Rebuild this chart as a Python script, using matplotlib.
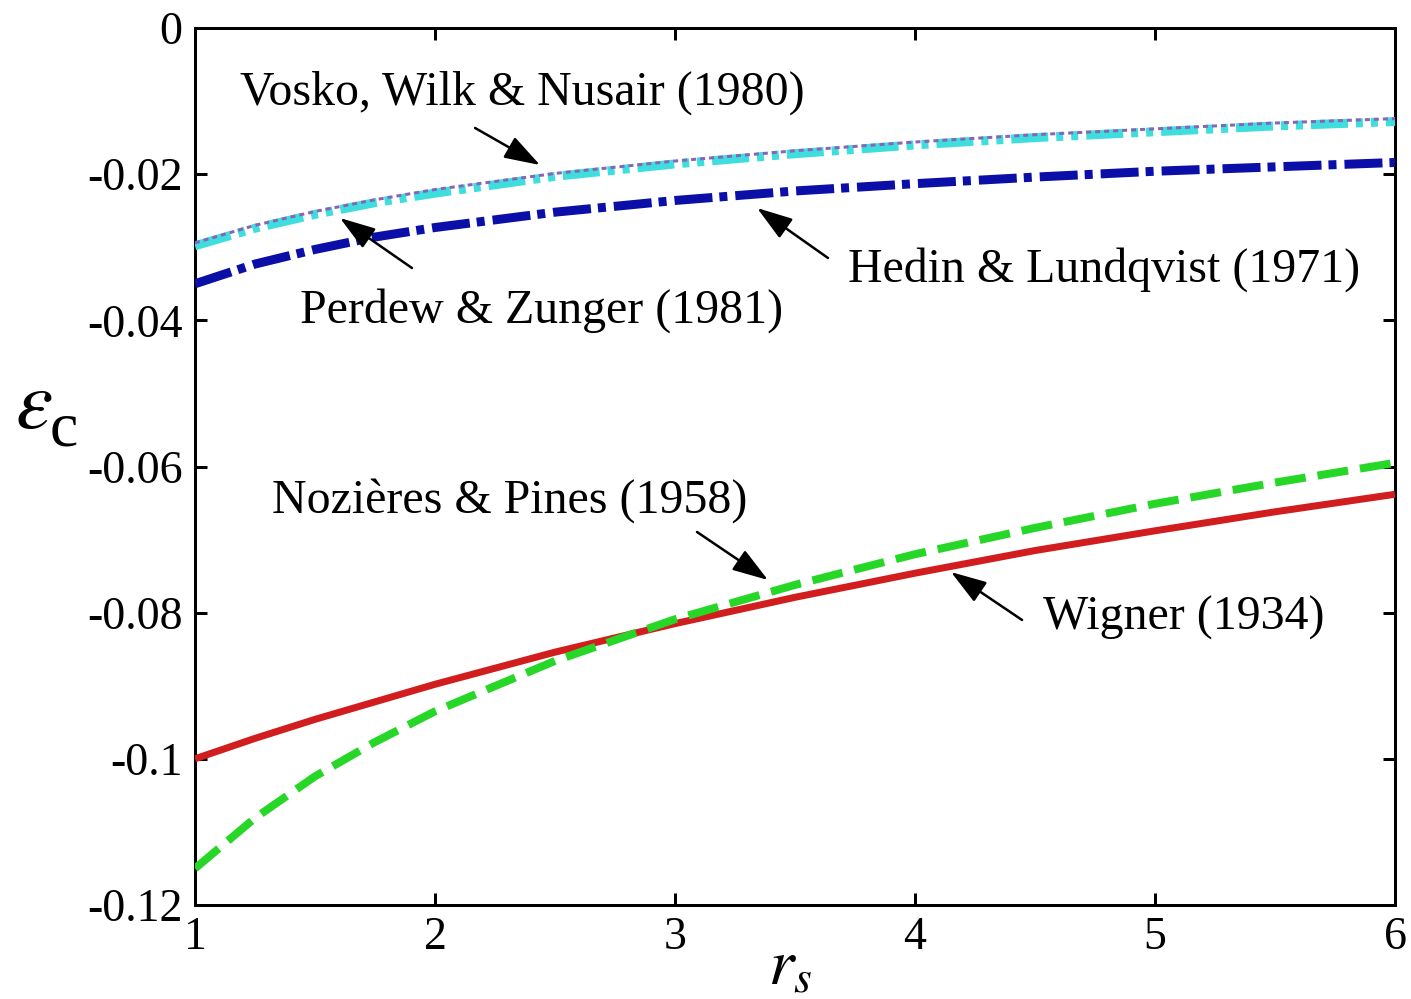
import matplotlib
matplotlib.use("Agg")
import matplotlib.pyplot as plt

plt.rcParams['font.family'] = ['Liberation Serif', 'DejaVu Serif']
plt.rcParams['mathtext.fontset'] = 'stix'
plt.rcParams['axes.unicode_minus'] = False

# Correlation energy per electron vs. Wigner-Seitz radius
rs = [1.0, 1.25, 1.5, 1.75, 2.0, 2.5, 3.0, 3.5, 4.0, 4.5, 5.0, 5.5, 6.0]

wigner = [-0.1000, -0.0972, -0.0946, -0.0922, -0.0898, -0.0854, -0.0815,
          -0.0779, -0.0746, -0.0715, -0.0688, -0.0662, -0.0638]
nozieres_pines = [-0.1150, -0.1081, -0.1024, -0.0977, -0.0935, -0.0866, -0.0809,
                  -0.0762, -0.0720, -0.0684, -0.0651, -0.0622, -0.0595]
hedin_lundqvist = [-0.0350, -0.0323, -0.0303, -0.0286, -0.0273, -0.0252, -0.0236,
                   -0.0223, -0.0213, -0.0204, -0.0196, -0.0190, -0.0184]
perdew_zunger = [-0.0298, -0.0274, -0.0255, -0.0239, -0.0226, -0.0203, -0.0186,
                 -0.0172, -0.0160, -0.0150, -0.0142, -0.0134, -0.0128]
vwn = [-0.0294, -0.0270, -0.0251, -0.0235, -0.0221, -0.0199, -0.0182,
       -0.0168, -0.0156, -0.0146, -0.0138, -0.0130, -0.0124]

x_ticks = [1, 2, 3, 4, 5, 6]
y_ticks = [0, -0.02, -0.04, -0.06, -0.08, -0.1, -0.12]
y_tick_labels = ['0', '-0.02', '-0.04', '-0.06', '-0.08', '-0.1', '-0.12']

PX = 72 / 100.0  # points per pixel at dpi=100

fig = plt.figure(figsize=(14.11, 9.99), dpi=100)
ax = fig.add_axes([195 / 1411, 1 - 905 / 999, 1200 / 1411, 877 / 999])


def dash(px_pattern, lw_px):
    return [p / lw_px for p in px_pattern]


ax.plot(rs, wigner, color='#d11d1d', lw=7 * PX, solid_capstyle='butt', zorder=3)
ax.plot(rs, nozieres_pines, color='#27d727', lw=8 * PX,
        dashes=dash([31, 12], 8), dash_capstyle='butt', zorder=4)
ax.plot(rs, hedin_lundqvist, color='#0b0fa8', lw=9 * PX,
        dashes=dash([38, 7, 8, 8], 9), dash_capstyle='butt', zorder=3)
ax.plot(rs, perdew_zunger, color='#3fdede', lw=9 * PX,
        dashes=dash([37, 8, 7, 8, 7, 8], 9), dash_capstyle='butt', zorder=3)
ax.plot(rs, vwn, color='#8a63b8', lw=3 * PX,
        dashes=dash([5, 4], 3), dash_capstyle='butt', zorder=5)

ax.set_xlim(1, 6)
ax.set_ylim(-0.12, 0)
ax.set_xticks(x_ticks)
ax.set_xticklabels([str(t) for t in x_ticks])
ax.set_yticks(y_ticks)
ax.set_yticklabels(y_tick_labels)

for s in ax.spines.values():
    s.set_linewidth(3 * PX)
ax.tick_params(direction='in', length=12 * PX, width=3 * PX, labelsize=33,
               top=True, right=True)
ax.tick_params(axis='y', pad=9)
ax.tick_params(axis='x', pad=8)

# axis titles
fig.text(15 / 1411, 1 - 428 / 999, r'$\varepsilon$', fontsize=60, ha='left',
         va='baseline')
fig.text(50 / 1411, 1 - 445 / 999, 'c', fontsize=46, ha='left', va='baseline')
fig.text(790 / 1411, 1 - 985 / 999, r'$r_s$', fontsize=47, ha='center',
         va='baseline')

# curve labels with pointer arrows
label_fs = 34.5
labels = [
    ('Vosko, Wilk & Nusair (1980)', (1.1875, -0.0089), (2.4375, -0.01875), (2.167, -0.01368)),
    ('Perdew & Zunger (1981)', (1.4375, -0.0386), (1.604, -0.0260), (1.904, -0.03284)),
    ('Hedin & Lundqvist (1971)', (3.7208, -0.0331), (3.342, -0.02463), (3.6375, -0.03147)),
    ('Nozières & Pines (1958)', (1.3208, -0.0646), (3.3875, -0.07553), (3.0917, -0.06896)),
    ('Wigner (1934)', (4.533, -0.0807), (4.15, -0.07444), (4.446, -0.0810)),
]
for text, pos, tip, tail in labels:
    ax.text(pos[0], pos[1], text, fontsize=label_fs, ha='left', va='center')
    ax.annotate('', xy=tip, xytext=tail,
                arrowprops=dict(arrowstyle='-|>,head_length=1.0,head_width=0.33',
                                mutation_scale=22, lw=2.5 * PX, color='black',
                                shrinkA=0, shrinkB=0))

fig.savefig('out.png', dpi=100)
